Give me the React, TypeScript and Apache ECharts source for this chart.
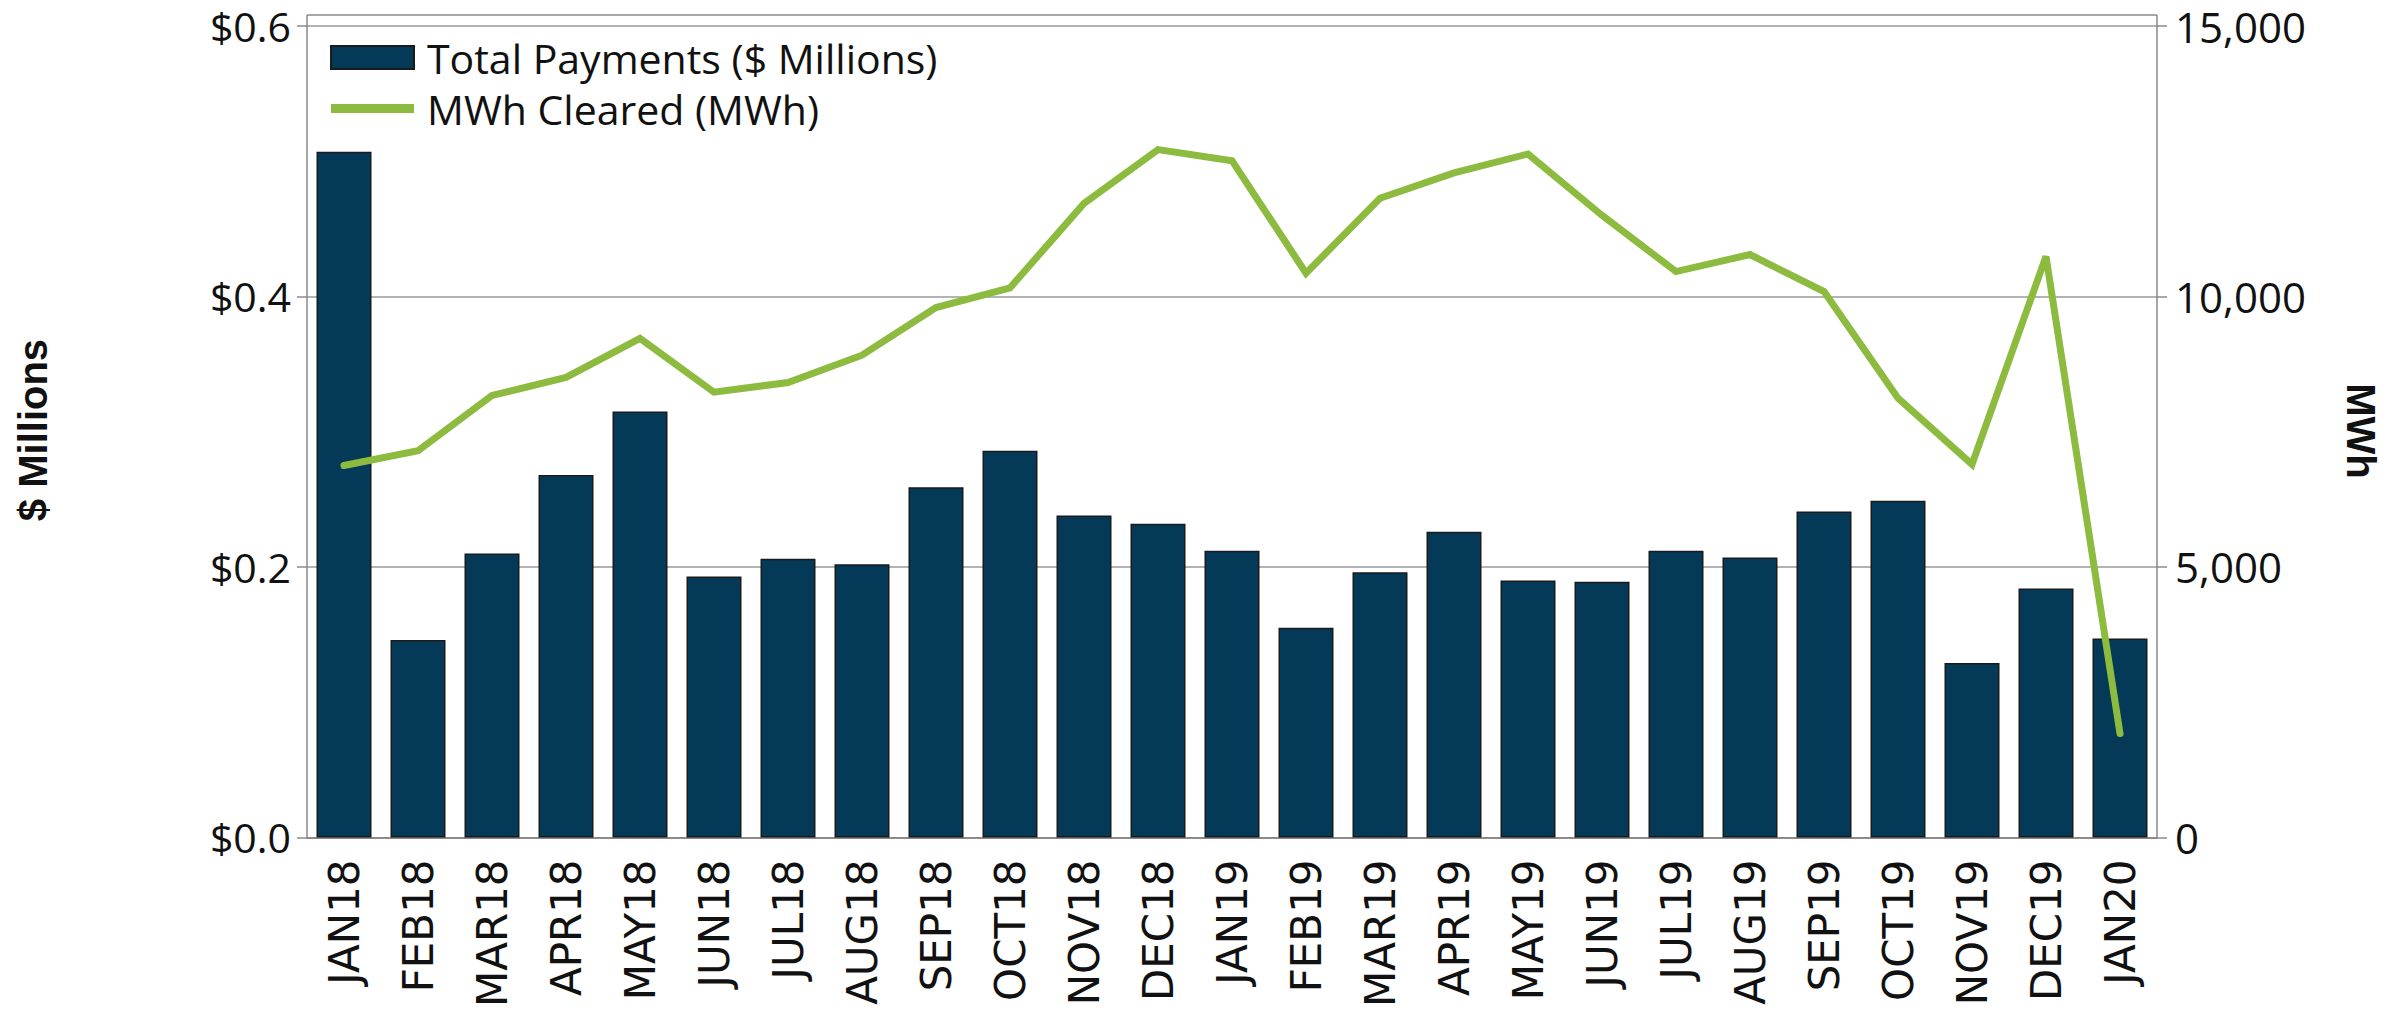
import React, { useEffect, useRef } from "react";
import * as echarts from "echarts";

const categories = [
  "JAN18", "FEB18", "MAR18", "APR18", "MAY18", "JUN18", "JUL18", "AUG18", "SEP18", "OCT18", "NOV18", "DEC18",
  "JAN19", "FEB19", "MAR19", "APR19", "MAY19", "JUN19", "JUL19", "AUG19", "SEP19", "OCT19", "NOV19", "DEC19",
  "JAN20",
];

const totalPayments = [
  0.507, 0.146, 0.21, 0.268, 0.315, 0.193, 0.206, 0.202, 0.259, 0.286, 0.238, 0.232,
  0.212, 0.155, 0.196, 0.226, 0.19, 0.189, 0.212, 0.207, 0.241, 0.249, 0.129, 0.184,
  0.147,
];

const mwhCleared = [
  6875, 7148, 8170, 8504, 9225, 8230, 8410, 8915, 9795, 10160, 11720, 12716,
  12510, 10430, 11815, 12285, 12634, 11500, 10460, 10775, 10090, 8120, 6896, 10740,
  1920,
];

const leftTicks = { min: 0, max: 0.6, interval: 0.2 };
const rightTicks = { min: 0, max: 15000, interval: 5000 };

const BAR_COLOR = "#043A57";
const LINE_COLOR = "#8DBB3F";
const GRID_GREY = "#9A9A9A";
const AXIS_GREY = "#8A8A8A";

export default function App() {
  const ref = useRef<HTMLDivElement>(null);

  useEffect(() => {
    if (!ref.current) return;
    const chart = echarts.init(ref.current, undefined, { renderer: "svg" });
    const L = 307, R = 2157, T = 26, B = 846, TOPB = 15;
    chart.setOption({
      animation: false,
      backgroundColor: "#ffffff",
      textStyle: { fontFamily: "Open Sans" },
      grid: { left: L, right: 2402 - R, top: T, bottom: 1010 - B, containLabel: false },
      legend: {
        show: true,
        orient: "vertical",
        left: 325,
        top: 27,
        itemWidth: 83,
        itemHeight: 23,
        itemGap: 0,
        symbolKeepAspect: true,
        textStyle: { fontFamily: "Open Sans", fontSize: 41, color: "#111", lineHeight: 51, padding: [0, 0, 0, 8] },
        data: [
          { name: "Total Payments ($ Millions)", icon: "rect" },
          { name: "MWh Cleared (MWh)", icon: "path://M0,0H83V9H0Z" },
        ],
      },
      xAxis: {
        type: "category",
        data: categories,
        axisLine: { show: true, lineStyle: { color: AXIS_GREY, width: 2 } },
        axisTick: { show: false },
        axisLabel: {
          rotate: 90,
          margin: 22,
          fontFamily: "DejaVu Sans",
          fontSize: 42,
          color: "#111",
          interval: 0,
        },
        splitLine: { show: false },
      },
      yAxis: [
        {
          type: "value",
          min: leftTicks.min,
          max: leftTicks.max,
          interval: leftTicks.interval,
          position: "left",
          axisLine: { show: true, lineStyle: { color: AXIS_GREY, width: 1.5 } },
          axisTick: { show: true, length: 10, lineStyle: { color: AXIS_GREY, width: 1.5 } },
          axisLabel: {
            margin: 16,
            fontFamily: "Open Sans",
            fontSize: 41,
            color: "#111",
            padding: [6, 0, 0, 0],
            formatter: (v: number) => "$" + v.toFixed(1),
          },
          splitLine: { show: true, lineStyle: { color: GRID_GREY, width: 1.5 } },
        },
        {
          type: "value",
          min: rightTicks.min,
          max: rightTicks.max,
          interval: rightTicks.interval,
          position: "right",
          axisLine: { show: true, lineStyle: { color: AXIS_GREY, width: 1.5 } },
          axisTick: { show: true, length: 10, lineStyle: { color: AXIS_GREY, width: 1.5 } },
          axisLabel: {
            margin: 18,
            fontFamily: "Open Sans",
            fontSize: 42,
            color: "#111",
            padding: [6, 0, 0, 0],
            formatter: (v: number) => v.toLocaleString("en-US"),
          },
          splitLine: { show: false },
        },
      ],
      graphic: [
        {
          type: "line",
          shape: { x1: L, y1: TOPB, x2: R, y2: TOPB },
          style: { stroke: AXIS_GREY, lineWidth: 1.5 },
          silent: true,
        },
        {
          type: "line",
          shape: { x1: L, y1: TOPB, x2: L, y2: T },
          style: { stroke: AXIS_GREY, lineWidth: 1.5 },
          silent: true,
        },
        {
          type: "line",
          shape: { x1: R, y1: TOPB, x2: R, y2: T },
          style: { stroke: AXIS_GREY, lineWidth: 1.5 },
          silent: true,
        },
        {
          type: "text",
          x: 33,
          y: 430,
          rotation: Math.PI / 2,
          style: {
            text: "$ Millions",
            fontFamily: "Liberation Sans",
            fontWeight: "bold",
            fontSize: 40,
            fill: "#111",
            textAlign: "center",
            textVerticalAlign: "middle",
          },
        },
        {
          type: "text",
          x: 2361,
          y: 431,
          rotation: -Math.PI / 2,
          style: {
            text: "MWh",
            fontFamily: "Liberation Sans",
            fontWeight: "bold",
            fontSize: 40,
            fill: "#111",
            textAlign: "center",
            textVerticalAlign: "middle",
          },
        },
      ],
      series: [
        {
          name: "Total Payments ($ Millions)",
          type: "bar",
          yAxisIndex: 0,
          data: totalPayments,
          barWidth: 55,
          itemStyle: { color: BAR_COLOR, borderColor: "#1a1a1a", borderWidth: 1.5 },
        },
        {
          name: "MWh Cleared (MWh)",
          type: "line",
          yAxisIndex: 1,
          data: mwhCleared,
          symbol: "none",
          showSymbol: false,
          lineStyle: { color: LINE_COLOR, width: 7, cap: "round", join: "miter" },
          itemStyle: { color: LINE_COLOR },
          z: 3,
        },
      ],
    });
    return () => chart.dispose();
  }, []);

  return (
    <div
      ref={ref}
      style={{ position: "fixed", left: 0, top: 0, width: 2402, height: 1010, background: "#fff" }}
    />
  );
}
